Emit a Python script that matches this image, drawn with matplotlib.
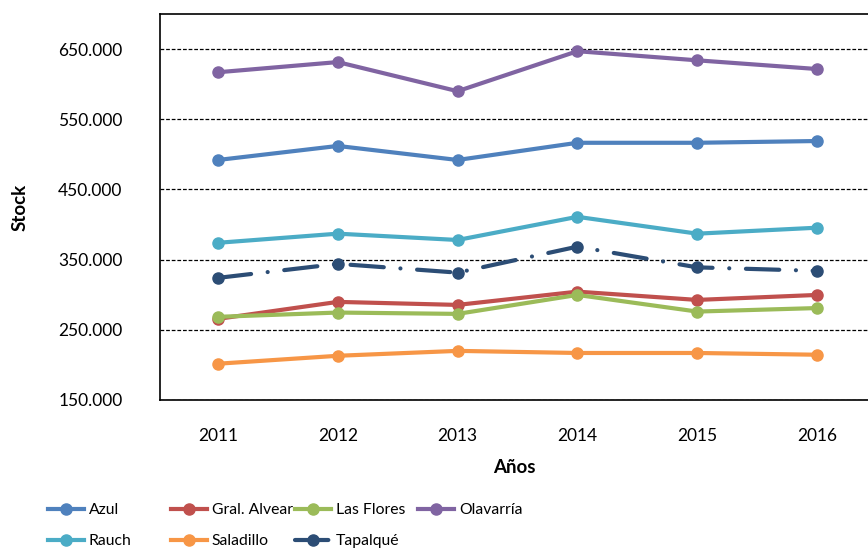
import numpy as np
import matplotlib.pyplot as plt
from matplotlib.ticker import FuncFormatter

plt.rcParams['font.family'] = ['Lato', 'DejaVu Sans']

years = ["2011", "2012", "2013", "2014", "2015", "2016"]

azul = [492000, 512000, 492000, 516500, 516500, 519000]
gral_alvear = [265600, 289800, 285500, 304400, 292600, 299700]
las_flores = [268500, 274600, 272700, 299700, 276000, 281000]
olavarria = [617000, 631500, 590000, 647000, 634000, 621600]
rauch = [374000, 387000, 378000, 411000, 387000, 395500]
saladillo = [201700, 213000, 220000, 217000, 217000, 214500]
tapalque = [324000, 344000, 331500, 368500, 339000, 334000]

names = ["Azul", "Gral. Alvear", "Las Flores", "Olavarría", "Rauch", "Saladillo", "Tapalqué"]
series = [azul, gral_alvear, las_flores, olavarria, rauch, saladillo, tapalque]
colors = ["#4F81BD", "#C0504D", "#9BBB59", "#8064A2", "#4BACC6", "#F79646", "#2C4D75"]

fig = plt.figure(figsize=(8.68, 5.49), dpi=100)
ax = fig.add_axes([160 / 868, 1 - 400 / 549, 1 - 160 / 868, (400 - 14) / 549])

x = np.arange(len(years))
lines = {}
for name, vals, c in zip(names, series, colors):
    if name == "Tapalqué":
        ln, = ax.plot(x, vals, color=c, lw=3, marker="o", ms=8,
                      dashes=(8, 4, 0.01, 4), dash_capstyle="round", zorder=3)
    else:
        ln, = ax.plot(x, vals, color=c, lw=3, marker="o", ms=8, zorder=3)
    lines[name] = ln

ax.set_xlim(-0.484, 5.426)
ax.set_ylim(150000, 700000)
ax.set_yticks(np.arange(150000, 700000, 100000))
ax.yaxis.set_major_formatter(FuncFormatter(lambda v, p: f"{int(v):,}".replace(",", ".")))
ax.set_xticks(x)
ax.set_xticklabels(years)
ax.tick_params(axis="both", length=0, labelsize=12.5)
ax.tick_params(axis="y", pad=27)
ax.tick_params(axis="x", pad=20)

ax.yaxis.grid(True, color="black", linestyle=(0, (3, 1.5)), linewidth=0.9)
ax.set_axisbelow(True)
for s in ["left", "bottom", "top"]:
    ax.spines[s].set_color("black")
    ax.spines[s].set_linewidth(1.2)
ax.spines["right"].set_visible(False)

ax.set_ylabel("Stock", fontsize=13.5, fontweight="bold", labelpad=21)
ax.set_xlabel("Años", fontsize=13.5, fontweight="bold", labelpad=11)

# leyenda en columnas de ancho fijo (como en Excel)
cols = [["Azul", "Rauch"], ["Gral. Alvear", "Saladillo"], ["Las Flores", "Tapalqué"], ["Olavarría"]]
col_x = [48, 171, 295, 418]
for cx, col in zip(col_x, cols):
    fig.legend([lines[n] for n in col], col, loc="upper left",
               bbox_to_anchor=(cx / 868, 1 - 503 / 549), frameon=False,
               fontsize=11.3, handlelength=2.3, handletextpad=0.3,
               labelspacing=1.1, borderaxespad=0, borderpad=0)

fig.savefig("out.png", dpi=100)
